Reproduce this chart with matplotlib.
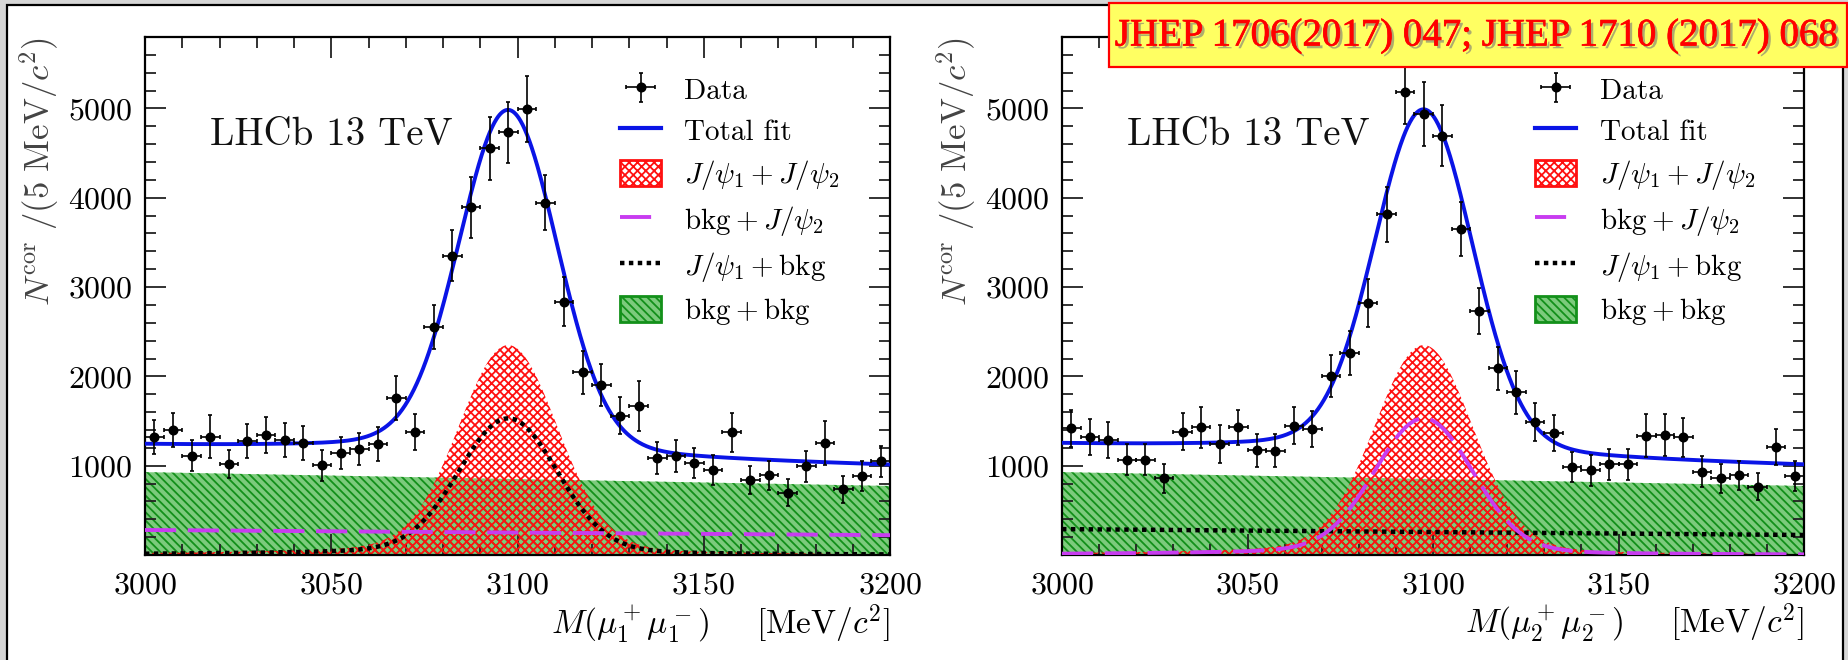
import numpy as np
import matplotlib
matplotlib.use("Agg")
import matplotlib.pyplot as plt
from matplotlib.patches import Patch, Rectangle
from matplotlib.lines import Line2D
from matplotlib.ticker import MultipleLocator, FixedLocator
import matplotlib.patheffects as pe

# ---------------- data ----------------
bin_centres = [3002.5 + 5 * i for i in range(40)]

left_counts = [1325, 1400, 1113, 1325, 1018, 1278, 1344, 1287, 1254, 1004,
               1146, 1184, 1240, 1758, 1377, 2550, 3350, 3893, 4553, 4733,
               4992, 3946, 2838, 2046, 1905, 1561, 1669, 1090, 1104, 1028,
               953, 1372, 839, 891, 698, 995, 1254, 736, 886, 1051]
left_errors = [190, 190, 170, 240, 160, 190, 200, 190, 190, 170,
               180, 180, 190, 250, 200, 245, 285, 340, 350, 340,
               370, 310, 270, 240, 235, 210, 280, 180, 180, 170,
               170, 215, 160, 165, 150, 175, 245, 150, 165, 175]

right_counts = [1419, 1325, 1287, 1066, 1066, 859, 1382, 1429, 1245, 1429,
                1174, 1165, 1448, 1410, 1999, 2258, 2824, 3813, 5188, 4934,
                4694, 3648, 2729, 2093, 1820, 1490, 1368, 986, 948, 1014,
                1014, 1334, 1344, 1316, 934, 859, 891, 764, 1207, 886]
right_errors = [210, 200, 200, 175, 175, 160, 210, 230, 210, 200,
                185, 185, 210, 200, 235, 245, 270, 310, 360, 360,
                340, 300, 260, 240, 240, 210, 200, 170, 170, 175,
                175, 240, 235, 215, 170, 165, 165, 150, 200, 165]

# fitted signal shape parameters
sig_mean = 3097.5
sig_sigma = 13.0
sig_tail_frac = 0.06
sig_tail_width_low = 43.0
sig_tail_width_high = 30.0

# component heights (peak heights for signal, end points for linear background)
peak_sig_sig = 2350          # J/psi1 + J/psi2
peak_sig_bkg = 1530          # single J/psi + bkg component (peaking)
bkgbkg_ends = [928, 773]     # bkg + bkg at 3000 and 3200
flat_ends_left = [280, 222]  # bkg + J/psi2 projected on M1
flat_ends_right = [290, 224] # J/psi1 + bkg projected on M2

x_range = [3000, 3200]
y_max = 5800

# ---------------- style ----------------
plt.rcParams['font.family'] = 'cmr10'
plt.rcParams['mathtext.fontset'] = 'cm'
plt.rcParams['axes.unicode_minus'] = False
plt.rcParams['axes.formatter.use_mathtext'] = True
plt.rcParams['hatch.linewidth'] = 1.3

W, H = 1849, 660
fig = plt.figure(figsize=(W / 100, H / 100), dpi=100)
fig.patch.set_facecolor('#d6d6d6')
fig.patches.append(Rectangle((7 / W, -0.05), (1843 - 7) / W, 1 - 5 / H + 0.05,
                             transform=fig.transFigure, facecolor='white',
                             edgecolor='black', linewidth=1.6, zorder=-5))

xg = np.linspace(x_range[0], x_range[1], 1001)


def shape(x):
    d = x - sig_mean
    gam = np.where(d < 0, sig_tail_width_low, sig_tail_width_high)
    return (1 - sig_tail_frac) * np.exp(-0.5 * (d / sig_sigma) ** 2) + \
        sig_tail_frac / (1 + (d / gam) ** 2)


def linear(x, ends):
    t = (x - x_range[0]) / (x_range[1] - x_range[0])
    return ends[0] + (ends[1] - ends[0]) * t


BLUE = '#0a14e6'
PURPLE = '#c83cf0'
RED = '#ff1010'
GREEN = '#13901a'
GREEN_FACE = '#7ccb7c'


def panel(rect, counts, errors, idx):
    ax = fig.add_axes(rect)
    ax.set_facecolor('white')
    green = linear(xg, bkgbkg_ends)
    red = peak_sig_sig * shape(xg)
    peak = peak_sig_bkg * shape(xg)
    flat = linear(xg, flat_ends_left if idx == 1 else flat_ends_right)
    if idx == 1:
        purple, black = flat, peak
    else:
        purple, black = peak, flat
    total = green + red + purple + black

    ax.fill_between(xg, 0, green, facecolor=GREEN_FACE, edgecolor=GREEN,
                    hatch='\\\\\\\\', linewidth=0, zorder=1)
    ax.fill_between(xg, 0, red, facecolor='none', edgecolor=RED,
                    hatch='xxxx', linewidth=0, zorder=2)
    ax.plot(xg, black, color='black', lw=3.2, ls=(0, (1, 1.0)), zorder=3)
    ax.plot(xg, purple, color=PURPLE, lw=2.8, ls=(0, (8, 3)), zorder=3)
    ax.plot(xg, total, color=BLUE, lw=2.8, zorder=4)
    eb = ax.errorbar(bin_centres, counts, yerr=errors, xerr=2.5, fmt='o',
                     color='black', ms=6.2, elinewidth=1.2, capsize=1.5,
                     capthick=1.2, zorder=5)

    ax.set_xlim(*x_range)
    ax.set_ylim(0, y_max)
    ax.xaxis.set_major_locator(MultipleLocator(50))
    ax.xaxis.set_minor_locator(MultipleLocator(10))
    ax.yaxis.set_major_locator(FixedLocator([1000, 2000, 3000, 4000, 5000]))
    ax.yaxis.set_minor_locator(MultipleLocator(200))
    ax.tick_params(which='both', direction='in', top=True, right=True,
                   width=1.3, colors='#222222')
    ax.tick_params(which='major', length=15, labelsize=23)
    ax.tick_params(which='minor', length=8)
    ax.tick_params(axis='x', which='major', pad=12)
    ax.tick_params(axis='y', which='major', pad=9)
    for s in ax.spines.values():
        s.set_linewidth(1.6)
    for lab in ax.get_xticklabels() + ax.get_yticklabels():
        lab.set_color('black')

    ax.text(0.087, 0.81, 'LHCb 13 TeV', transform=ax.transAxes,
            fontsize=28, va='center', ha='left', color='#111111')

    ax.set_xlabel(r'$M(\mu_%d^+\mu_%d^-)\quad\;\;[\mathrm{MeV}/c^2]$' % (idx, idx),
                  fontsize=24, loc='right', labelpad=2)
    ax.set_ylabel(r'$N^{\mathrm{cor}}\ /(5\ \mathrm{MeV}/c^2)$', fontsize=25,
                  loc='top', color='#444444')
    ax.yaxis.set_label_coords(-0.113, 1.0)

    handles = [eb,
               Line2D([], [], color=BLUE, lw=3),
               Patch(facecolor='white', edgecolor=RED, hatch='xxxx', lw=2),
               Line2D([], [], color=PURPLE, lw=2.8, ls=(0, (8, 3))),
               Line2D([], [], color='black', lw=3.2, ls=(0, (1, 1.0))),
               Patch(facecolor=GREEN_FACE, edgecolor=GREEN, hatch='\\\\\\\\', lw=2)]
    labels = ['Data', 'Total fit', r'$J/\psi_1 + J/\psi_2$',
              r'$\mathrm{bkg} + J/\psi_2$', r'$J/\psi_1 + \mathrm{bkg}$',
              r'$\mathrm{bkg} + \mathrm{bkg}$']
    ax.legend(handles, labels, loc='upper left', bbox_to_anchor=(0.638, 0.925),
              frameon=False, fontsize=21, labelspacing=0.41, handlelength=1.4,
              handletextpad=0.8, handleheight=1.0, borderpad=0, borderaxespad=0)
    return ax


axL = panel([145 / W, 1 - 555 / H, (890 - 145) / W, (555 - 37) / H],
            left_counts, left_errors, 1)
axR = panel([1062 / W, 1 - 555 / H, (1804 - 1062) / W, (555 - 37) / H],
            right_counts, right_errors, 2)

# reference banner
fig.patches.append(Rectangle((1109 / W, 1 - 67 / H), (1847 - 1109) / W, 64 / H,
                             transform=fig.transFigure, facecolor='#ffff62',
                             edgecolor='#ff0000', linewidth=1.6, zorder=10))
fig.text(1476 / W, 1 - 36 / H, 'JHEP 1706(2017) 047; JHEP 1710 (2017) 068',
         fontsize=28, family='Liberation Serif', color='#ff0000',
         ha='center', va='center', zorder=11,
         path_effects=[pe.SimplePatchShadow(offset=(2, -2), shadow_rgbFace='#777777',
                                            alpha=0.6),
                       pe.withStroke(linewidth=0.5, foreground='#ff0000')])

fig.savefig('out.png', dpi=100, facecolor=fig.get_facecolor())
